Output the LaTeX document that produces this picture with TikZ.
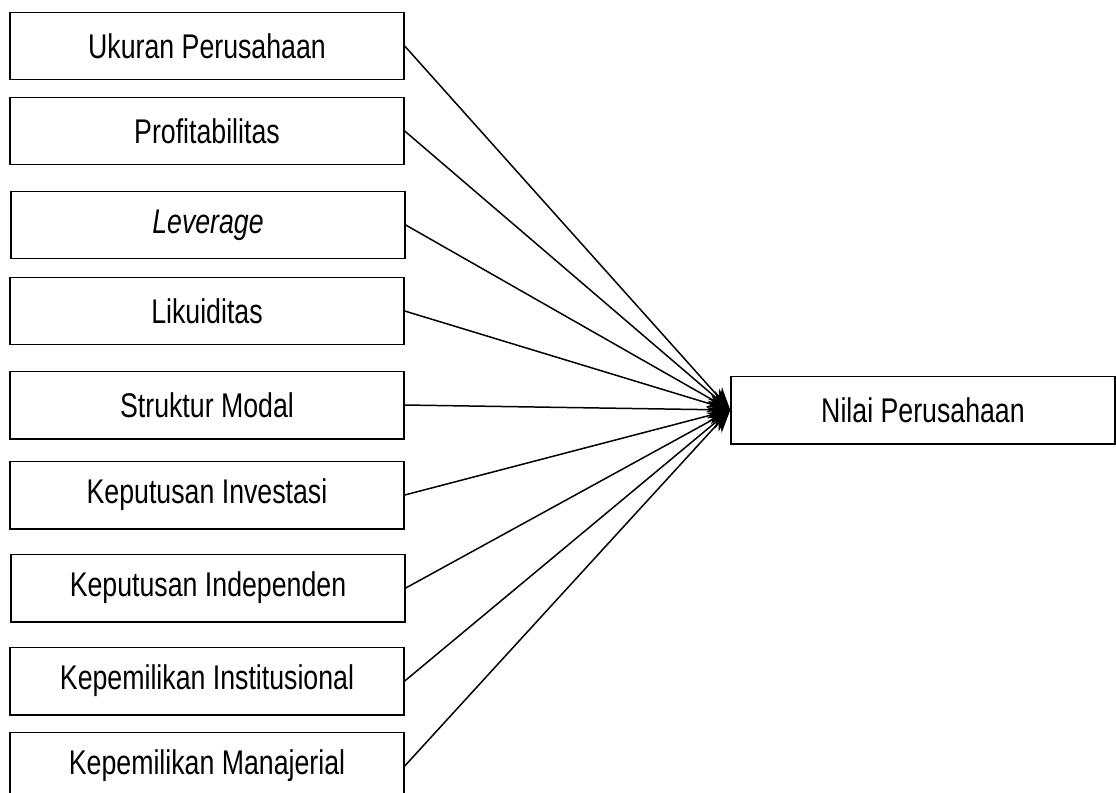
\documentclass[tikz,border=0pt]{standalone}
\usepackage{fontspec}
\setmainfont{Liberation Sans}[FakeStretch=0.78]
\usepackage{tikz}
\usetikzlibrary{arrows.meta}
\tikzset{every picture/.style={line width=0.85pt}}

\begin{document}
\begin{tikzpicture}[x=0.02cm,y=-0.02cm,
    var/.style={draw, rectangle, minimum width=7.88cm, minimum height=1.35cm, inner sep=0pt, font=\fontsize{19.5}{23}\selectfont},
    link/.style={-{Stealth[length=4.5mm,width=3.6mm]}}]
        \useasboundingbox (0,0) rectangle (1116,792);
        \node[var] (uk) at (207,46) {Ukuran Perusahaan};
        \node[var] (pr) at (207,131) {Profitabilitas};
        \node[var] (lv) at (208,225) {\itshape Leverage};
        \node[var] (lk) at (207,311) {Likuiditas};
        \node[var] (sm) at (207,405) {Struktur Modal};
        \node[var] (ki) at (207,495) {Keputusan Investasi};
        \node[var] (kd) at (208,588) {Keputusan Independen};
        \node[var] (kn) at (207,681) {Kepemilikan Institusional};
        \node[var] (km) at (207,766) {Kepemilikan Manajerial};
        \node[var, minimum width=7.68cm] (np) at (923,410) {Nilai Perusahaan};
        
        \draw
            (uk.east) edge[link] (np.west)
            (pr.east) edge[link] (np.west)
            (lv.east) edge[link] (np.west)
            (lk.east) edge[link] (np.west)
            (sm.east) edge[link] (np.west)
            (ki.east) edge[link] (np.west)
            (kd.east) edge[link] (np.west)
            (kn.east) edge[link] (np.west)
            (km.east) edge[link] (np.west)
            ;
    \end{tikzpicture}
\end{document}
